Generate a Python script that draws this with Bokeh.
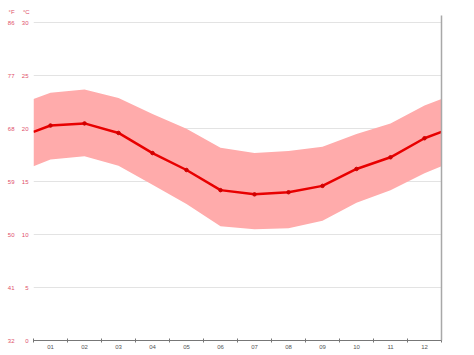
from bokeh.plotting import figure
from bokeh.models import Range1d, FixedTicker, LinearAxis, Title, ColumnDataSource
from bokeh.embed import file_html
from bokeh.resources import INLINE

# ---- data ----
months = ["01", "02", "03", "04", "05", "06", "07", "08", "09", "10", "11", "12"]
t_mean = [20.3, 20.5, 19.6, 17.7, 16.1, 14.2, 13.8, 14.0, 14.6, 16.2, 17.3, 19.1]
t_max = [23.4, 23.7, 22.9, 21.4, 20.0, 18.2, 17.7, 17.9, 18.3, 19.5, 20.5, 22.2]
t_min = [17.1, 17.4, 16.5, 14.7, 12.9, 10.8, 10.5, 10.6, 11.3, 13.0, 14.2, 15.8]
c_ticks = [0, 5, 10, 15, 20, 25, 30]
f_labels = ["32", "41", "50", "59", "68", "77", "86"]

# ---- build series (month centres, wrapped to the edges with Dec/Jan average) ----
n = len(months)
xc = [i + 0.5 for i in range(n)]
def wrap(vals):
    edge = (vals[0] + vals[-1]) / 2.0
    return [edge] + list(vals) + [edge]
xs = [0] + xc + [n]

src = ColumnDataSource(dict(x=xs, mean=wrap(t_mean), hi=wrap(t_max), lo=wrap(t_min)))
pts = ColumnDataSource(dict(x=xc, mean=t_mean))

LABEL_RED = "#e0506a"
FONT = "Liberation Sans"

p = figure(width=474, height=355, output_backend="svg", toolbar_location=None,
           x_range=Range1d(0, n), y_range=Range1d(0, 30.69),
           min_border_left=33, min_border_right=33, min_border_top=15, min_border_bottom=15,
           x_axis_location=None, y_axis_location=None)
p.outline_line_color = None
p.background_fill_color = "white"
p.border_fill_color = "white"

# band, line, points
p.varea(x="x", y1="lo", y2="hi", source=src, fill_color="#ffabab", fill_alpha=1.0)
p.line(x="x", y="mean", source=src, line_color="#e80000", line_width=2.5)
p.scatter(x="x", y="mean", source=pts, size=3.5, fill_color="#d00000", line_color="#d00000")

def style_y(ax, standoff):
    ax.axis_line_color = None
    ax.major_tick_line_color = None
    ax.minor_tick_line_color = None
    ax.major_tick_in = 0
    ax.major_tick_out = 0
    ax.minor_tick_in = 0
    ax.minor_tick_out = 0
    ax.major_label_standoff = standoff
    ax.major_label_text_font_size = "6px"
    ax.major_label_text_font = FONT
    ax.major_label_text_color = LABEL_RED

# °C axis (nearest to the frame)
ax_c = LinearAxis(ticker=FixedTicker(ticks=c_ticks, minor_ticks=[]))
style_y(ax_c, 5)
p.add_layout(ax_c, "left")

# °F axis
ax_f = LinearAxis(ticker=FixedTicker(ticks=c_ticks, minor_ticks=[]),
                  major_label_overrides={c: f for c, f in zip(c_ticks, f_labels)})
style_y(ax_f, 4)
p.add_layout(ax_f, "left")

# horizontal grid
p.ygrid.ticker = FixedTicker(ticks=c_ticks)
p.ygrid.grid_line_color = "#e3e3e3"
p.ygrid.grid_line_width = 1
p.xgrid.grid_line_color = None

# x axis with month labels at centres, tick marks at month boundaries
ax_x = LinearAxis(ticker=FixedTicker(ticks=xc, minor_ticks=list(range(n + 1))),
                  major_label_overrides={x: m for x, m in zip(xc, months)})
ax_x.axis_line_color = "#777777"
ax_x.axis_line_width = 1
ax_x.major_tick_line_color = None
ax_x.major_tick_in = 0
ax_x.major_tick_out = 0
ax_x.minor_tick_line_color = "#777777"
ax_x.minor_tick_in = 2
ax_x.minor_tick_out = 2
ax_x.major_label_standoff = 2
ax_x.major_label_text_font_size = "6px"
ax_x.major_label_text_font = FONT
ax_x.major_label_text_color = "#555555"
p.add_layout(ax_x, "below")

# right boundary line
ax_r = LinearAxis(ticker=FixedTicker(ticks=[]))
ax_r.axis_line_color = "#a8a8a8"
ax_r.axis_line_width = 1.5
ax_r.major_tick_line_color = None
ax_r.minor_tick_line_color = None
ax_r.major_tick_in = 0
ax_r.major_tick_out = 0
ax_r.major_label_text_font_size = "0px"
p.add_layout(ax_r, "right")

# unit headers
p.add_layout(Title(text="°F" + "\u00a0" * 5 + "°C", align="left", offset=-25, standoff=1,
                   text_font_size="6px", text_font=FONT, text_color=LABEL_RED,
                   text_font_style="normal"), "above")

open("out.html", "w").write(file_html(p, INLINE))
